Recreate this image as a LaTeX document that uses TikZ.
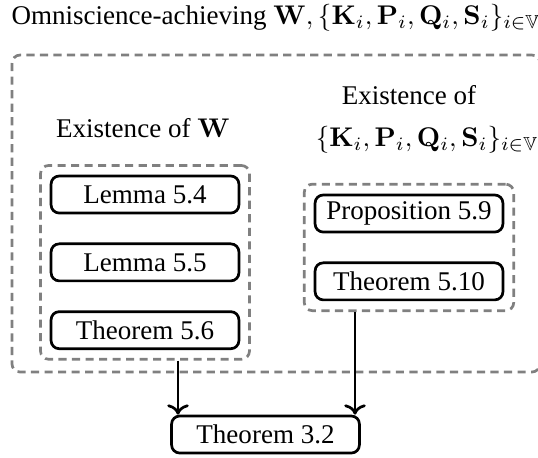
\documentclass[tikz,border=0pt]{standalone}
\usepackage{amsmath,amssymb}
\usepackage[no-math]{fontspec}
\setmainfont{Liberation Serif}
\usetikzlibrary{positioning, calc, fit, arrows.meta}
\tikzset{
  result/.style={rectangle, draw, line width=1pt, rounded corners=3pt, minimum width=69.5pt, minimum height=13.7pt, inner sep=0pt},
  group/.style={draw=gray, line width=1pt, dash pattern=on 3pt off 2pt, rounded corners=3pt},
  arrow/.style={->, line width=1pt},
}

\begin{document}
\begin{tikzpicture}[x=0.37pt, y=-0.37pt, node distance=10.4pt]
  \useasboundingbox (0,0) rectangle (538,457);

  % Title
  \node (title) at (276,18) {Omniscience-achieving $\mathbf{W}, \{\mathbf{K}_i, \mathbf{P}_i, \mathbf{Q}_i, \mathbf{S}_i\}_{i\in\mathbb{V}}$};

  % Outer frame
  \draw[group] (12,55) rectangle (540,372);

  % Existence of W (left)
  \node (exW) at (143,128) {Existence of $\mathbf{W}$};
  \node[result] (lem54) at (145,194.5) {Lemma 5.4};
  \node[result, below=of lem54] (lem55) {Lemma 5.5};
  \node[result, below=of lem55] (thm56) {Theorem 5.6};
  \node[group, fit=(lem54)(thm56), inner sep=3.4pt] (inW) {};

  % Existence of K, P, Q, S (right)
  \node (exKP) at (409,95) {Existence of};
  \node (exKPm) at (427,140) {$\{\mathbf{K}_i, \mathbf{P}_i, \mathbf{Q}_i, \mathbf{S}_i\}_{i\in\mathbb{V}}$};
  \node[result] (prop59) at (409,213.5) {Proposition 5.9};
  \node[result, below=of prop59] (thm510) {Theorem 5.10};
  \node[group, fit=(prop59)(thm510), inner sep=3.5pt] (inKP) {};

  % Main result
  \node[result] (thm32) at (265.5,434.5) {Theorem 3.2};

  \coordinate (xl) at (178,0);
  \coordinate (xr) at (355,0);
  \draw[arrow] (inW.south -| xl) -- (thm32.north -| xl);
  \draw[arrow] (inKP.south -| xr) -- (thm32.north -| xr);
\end{tikzpicture}
\end{document}
